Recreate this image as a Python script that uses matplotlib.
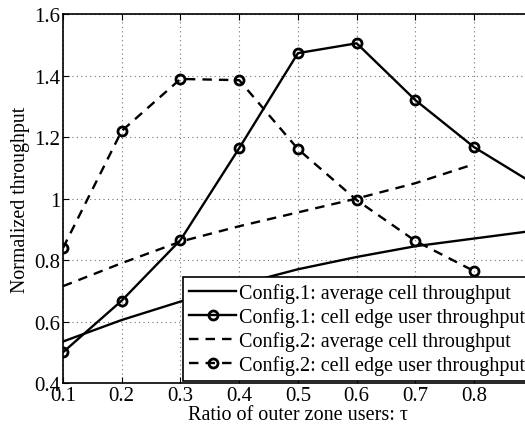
import numpy as np
import matplotlib
matplotlib.use('Agg')
import matplotlib.pyplot as plt

plt.rcParams['font.family'] = ['Liberation Serif', 'DejaVu Serif']

tau1 = [0.1, 0.2, 0.3, 0.4, 0.5, 0.6, 0.7, 0.8, 0.9]
tau2 = [0.1, 0.2, 0.3, 0.4, 0.5, 0.6, 0.7, 0.8]

cfg1_avg = [0.535, 0.605, 0.665, 0.72, 0.77, 0.81, 0.845, 0.87, 0.895]
cfg1_edge = [0.50, 0.668, 0.865, 1.164, 1.473, 1.505, 1.32, 1.167, 1.05]
cfg2_avg = [0.715, 0.79, 0.86, 0.91, 0.955, 1.0, 1.05, 1.112]
cfg2_edge = [0.839, 1.22, 1.389, 1.385, 1.161, 0.995, 0.862, 0.764]

labels = ['Config.1: average cell throughput',
          'Config.1: cell edge user throughput',
          'Config.2: average cell throughput',
          'Config.2: cell edge user throughput']
xtick_labels = ['0.1', '0.2', '0.3', '0.4', '0.5', '0.6', '0.7', '0.8', '']
ytick_labels = ['0.4', '0.6', '0.8', '1', '1.2', '1.4', '1.6']

fig = plt.figure(figsize=(5.25, 4.31), dpi=100)
ax = fig.add_axes([0.12, 0.109, 0.895, 0.856])

lw = 1.7
mk = dict(marker='o', markersize=6.5, markerfacecolor='none', markeredgewidth=2)
ax.plot(tau1, cfg1_avg, 'k-', lw=lw, label=labels[0])
ax.plot(tau1, cfg1_edge, 'k-', lw=lw, label=labels[1], **mk)
ax.plot(tau2, cfg2_avg, 'k--', lw=lw, dashes=(4, 3), label=labels[2])
ax.plot(tau2, cfg2_edge, 'k--', lw=lw, dashes=(4, 3), label=labels[3], **mk)

ax.set_xlim(0.1, 0.9)
ax.set_ylim(0.4, 1.6)
ax.set_xticks(tau1)
ax.set_xticklabels(xtick_labels)
ax.set_yticks(np.arange(0.4, 1.65, 0.2))
ax.set_yticklabels(ytick_labels)
ax.tick_params(direction='in', top=True, right=True, labelsize=15, length=4, pad=2)
ax.grid(True, linestyle=(0, (1, 3)), color='0.45', linewidth=0.8)
for s in ax.spines.values():
    s.set_linewidth(1.2)

ax.set_xlabel('Ratio of outer zone users: τ', fontsize=14.5, labelpad=0)
ax.set_ylabel('Normalized throughput', fontsize=14.3, labelpad=3)

leg = ax.legend(loc='lower right', fontsize=14.5, numpoints=1, handlelength=2.3,
                handletextpad=0.15, labelspacing=0.2, borderpad=0.3,
                borderaxespad=0.1, fancybox=False, framealpha=1, edgecolor='k')
leg.get_frame().set_linewidth(1.2)

fig.savefig('out.png', dpi=100)
